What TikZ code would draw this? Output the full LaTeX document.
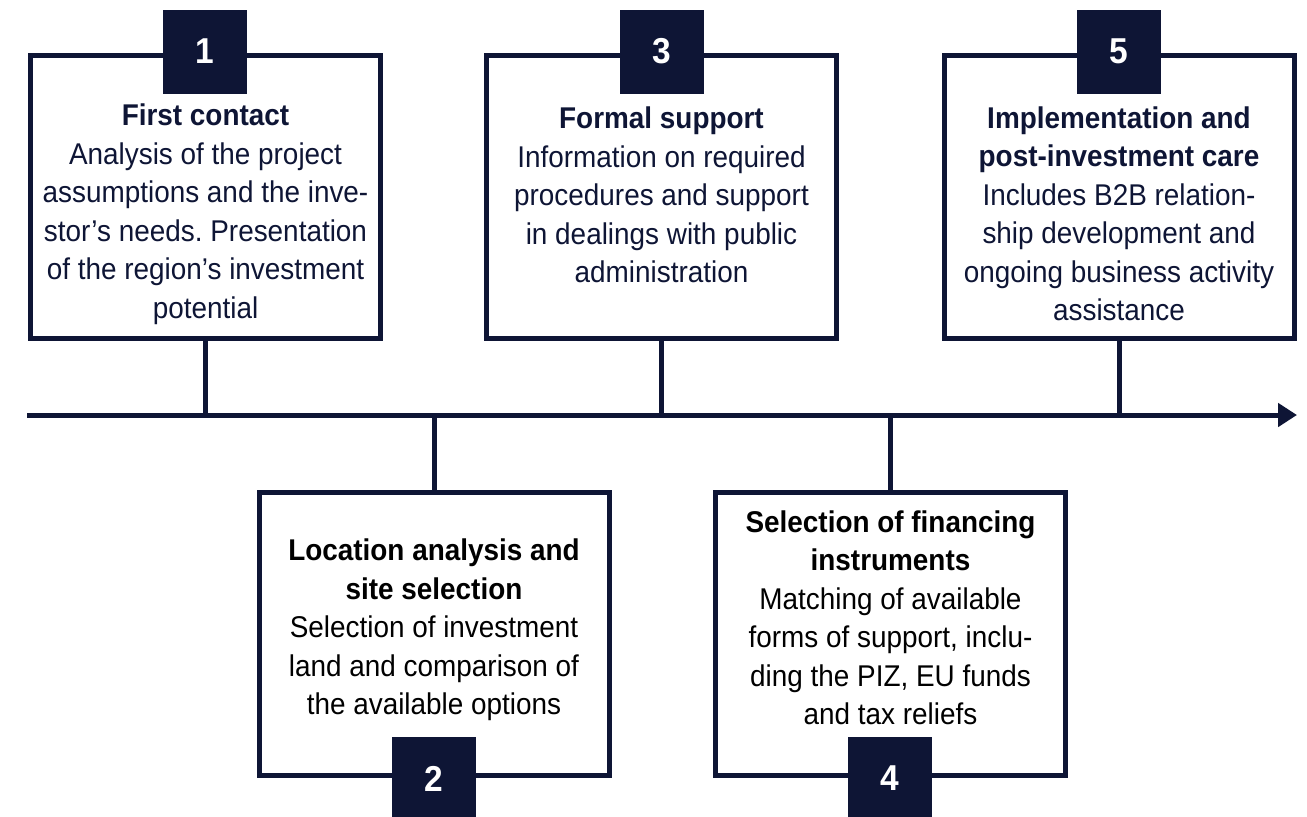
\documentclass[tikz,border=0pt]{standalone}
\usepackage{fontspec}
\setmainfont{Liberation Sans}[FakeStretch=0.93]
\usetikzlibrary{positioning,arrows.meta}
\definecolor{navy}{HTML}{0E1535}
\frenchspacing

\begin{document}
\begin{tikzpicture}[x=0.5pt, y=-0.5pt,
	stage/.style={rectangle, draw=navy, line width=2.5pt, minimum width=175pt, minimum height=141.5pt},
	badge/.style={rectangle, fill=navy, text=white, minimum size=42pt, inner sep=0pt, font=\bfseries\fontsize{18}{18}\selectfont},
	info/.style={align=center, text=navy, inner sep=0pt, font=\fontsize{15}{19.25}\selectfont},
	link/.style={draw=navy, line width=2.5pt}]
				\useasboundingbox (0, 0) rectangle (1307, 816);
				\coordinate (start) at (27, 415);
				\coordinate (end) at (1297, 415);
				\node[stage] (box1) at (205.5, 197) {};
				\node[stage] (box3) at (661.5, 197) {};
				\node[stage] (box5) at (1119, 197) {};
				\node[stage] (box2) at (434, 634) {};
				\node[stage] (box4) at (890.5, 634) {};
				\node[badge] (num1) at (205, 51.5) {1};
				\node[badge] (num3) at (661.5, 51.5) {3};
				\node[badge] (num5) at (1118.5, 51.5) {5};
				\node[badge] (num2) at (433.5, 778.5) {2};
				\node[badge] (num4) at (890, 778.5) {4};
				\node[info] (txt1) at (205.5, 214) {\textbf{First contact}\\Analysis of the project\\assumptions and the inve-\\stor’s needs. Presentation\\of the region’s investment\\potential};
				\node[info] (txt3) at (661.5, 195) {\textbf{Formal support}\\Information on required\\procedures and support\\in dealings with public\\administration};
				\node[info] (txt5) at (1119, 214) {\textbf{Implementation and}\\\textbf{post-investment care}\\Includes B2B relation-\\ship development and\\ongoing business activity\\assistance};
				\node[info, text=black] (txt2) at (434, 630) {\textbf{Location analysis and}\\\textbf{site selection}\\Selection of investment\\land and comparison of\\the available options};
				\node[info, text=black] (txt4) at (890.5, 618) {\textbf{Selection of financing}\\\textbf{instruments}\\Matching of available\\forms of support, inclu-\\ding the PIZ, EU funds\\and tax reliefs};
				\draw[link, -{Triangle[length=9.5pt, width=11.5pt]}] (start) -- (end);
				\draw[link] (box1.south) -- (box1.south |- start);
				\draw[link] (box3.south) -- (box3.south |- start);
				\draw[link] (box5.south) -- (box5.south |- start);
				\draw[link] (box2.north) -- (box2.north |- start);
				\draw[link] (box4.north) -- (box4.north |- start);
			\end{tikzpicture}
\end{document}
